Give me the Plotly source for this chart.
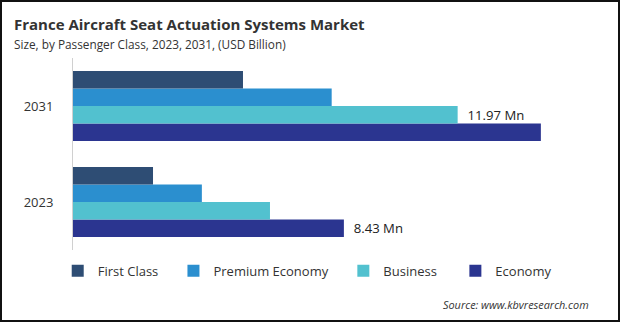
import plotly.graph_objects as go

years = ["2023", "2031"]
series_names = ["First Class", "Premium Economy", "Business", "Economy"]
first_class = [2.49, 5.29]
premium_economy = [4.01, 8.05]
business = [6.13, 11.97]
economy = [8.43, 14.56]
labels = {
    "First Class": ["", ""],
    "Premium Economy": ["", ""],
    "Business": ["", "11.97 Mn"],
    "Economy": ["8.43 Mn", ""],
}
colors = {
    "First Class": "#2e4d74",
    "Premium Economy": "#2b8fcf",
    "Business": "#52c1cf",
    "Economy": "#2b3590",
}
values = {
    "First Class": first_class,
    "Premium Economy": premium_economy,
    "Business": business,
    "Economy": economy,
}
NB = "\u00a0"
legend_pad = {"First Class": 3, "Premium Economy": 3, "Business": 4, "Economy": 0}

W, H = 620, 322
L, R, T, B = 73, 20, 58, 72

fig = go.Figure()
for name in reversed(series_names):
    fig.add_trace(go.Bar(
        name=name + NB * legend_pad[name], y=years, x=values[name], orientation="h",
        marker=dict(color=colors[name], line=dict(width=0)),
        text=[(NB * 2 + t) if t else "" for t in labels[name]],
        textposition="outside", cliponaxis=False,
        textfont=dict(size=13.5, color="#222222", family="Open Sans"),
    ))

pw = W - L - R
ph = H - T - B
fig.update_layout(
    width=W, height=H,
    margin=dict(l=L, r=R, t=T, b=B),
    paper_bgcolor="white", plot_bgcolor="white",
    barmode="group", bargap=0.27, bargroupgap=0,
    font=dict(family="Open Sans", color="#333333"),
    showlegend=True,
    legend=dict(orientation="h", traceorder="reversed", x=-0.029, xanchor="left",
                y=-0.03, yanchor="top", font=dict(size=13, color="#333333"),
                itemwidth=30),
    xaxis=dict(range=[0, 16.4], showgrid=False, showticklabels=False, zeroline=False,
               showline=False, ticks=""),
    yaxis=dict(showgrid=False, showline=True, linecolor="#d0d0d0", linewidth=1,
               ticks="", ticklabelstandoff=16, tickfont=dict(size=13, color="#333333")),
    annotations=[
        dict(text="<b>France Aircraft Seat Actuation Systems Market</b>", xref="paper", yref="paper",
             x=-(L - 12) / pw, y=1 + (T - 12) / ph, xanchor="left", yanchor="top", showarrow=False,
             font=dict(size=15, color="#333333", family="Open Sans")),
        dict(text="Size, by Passenger Class, 2023, 2031, (USD Billion)", xref="paper", yref="paper",
             x=-(L - 12) / pw, y=1 + (T - 34) / ph, xanchor="left", yanchor="top", showarrow=False,
             font=dict(size=11.8, color="#333333", family="Open Sans")),
        dict(text="<i>Source: www.kbvresearch.com</i>", xref="paper", yref="paper",
             x=(591 - L) / pw, y=-(304 - (H - B)) / ph, xanchor="right", yanchor="middle",
             showarrow=False, font=dict(size=10.9, color="#333333", family="Open Sans")),
    ],
    shapes=[
        dict(type="rect", xref="paper", yref="paper",
             x0=-(L - 1) / pw, x1=1 + (R - 1) / pw,
             y0=-(B - 1) / ph, y1=1 + (T - 1) / ph,
             line=dict(color="#111111", width=2), fillcolor="rgba(0,0,0,0)", layer="above"),
    ],
)

fig.write_html("out.html")
